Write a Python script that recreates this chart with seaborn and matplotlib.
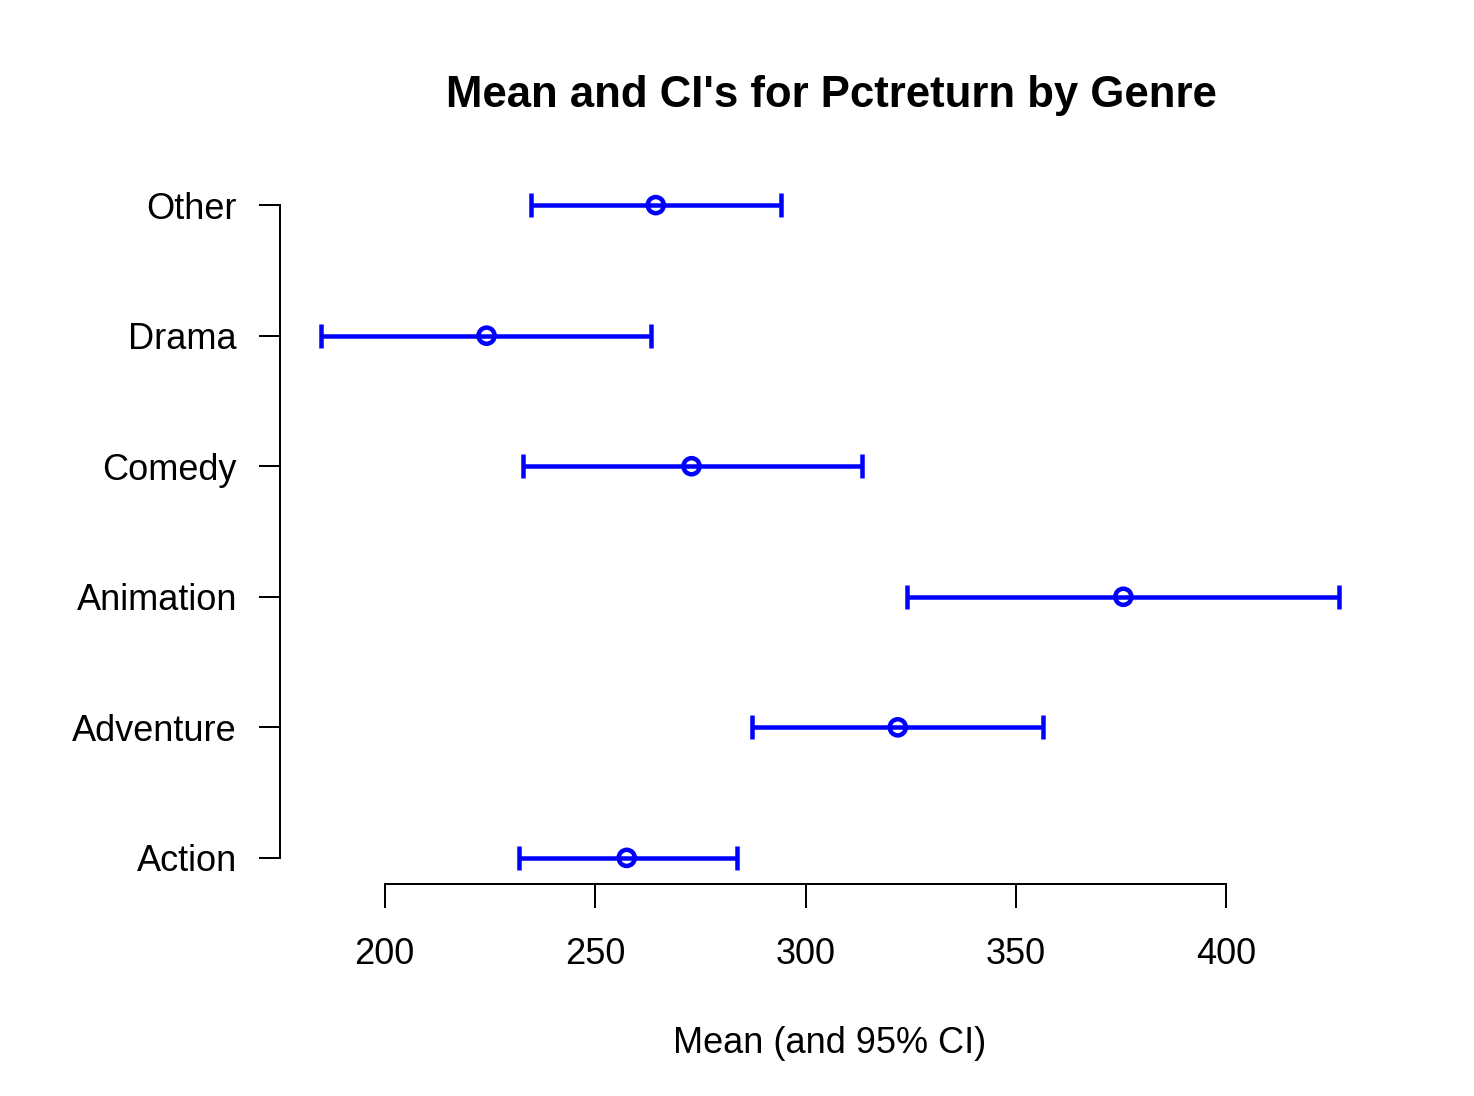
import pandas as pd
import matplotlib
matplotlib.use("Agg")
import matplotlib.pyplot as plt
import seaborn as sns

sns.set_theme(style="white")
plt.rcParams["font.family"] = ["Liberation Sans", "DejaVu Sans"]
plt.rcParams["text.color"] = "black"

genres = ["Action", "Adventure", "Animation", "Comedy", "Drama", "Other"]
means  = [257.5, 321.9, 375.5, 272.9, 224.2, 264.4]
lower  = [231.8, 287.2, 324.0, 232.8, 184.8, 234.7]
upper  = [283.6, 356.5, 426.8, 313.3, 263.2, 294.1]
x_ticks = [200, 250, 300, 350, 400]

df = pd.DataFrame({"Genre": genres, "Mean": means, "Lower": lower, "Upper": upper})
df["pos"] = range(1, len(df) + 1)

DPI = 100
px = 72 / DPI  # points per pixel

fig = plt.figure(figsize=(14.74, 10.96), dpi=DPI)
ax = fig.add_axes([280 / 1474, 212 / 1096, 1100 / 1474, 705 / 1096])

ax.errorbar(df["Mean"], df["pos"],
            xerr=[df["Mean"] - df["Lower"], df["Upper"] - df["Mean"]],
            fmt="none", ecolor="#0000FF", elinewidth=4.5 * px,
            capsize=12 * px, capthick=4.5 * px, zorder=2)
sns.scatterplot(data=df, x="Mean", y="pos", ax=ax, s=135,
                facecolor="none", edgecolor="#0000FF", linewidth=4.5 * px,
                zorder=3, legend=False)

lo = min(lower); hi = max(upper)
pad = (hi - lo) * 0.04
ax.set_xlim(lo - pad, hi + pad)
ax.set_ylim(1 - 5 * 0.04, 6 + 5 * 0.04)

ax.set_xticks(x_ticks)
ax.set_xticklabels([str(t) for t in x_ticks])
ax.set_yticks(df["pos"])
ax.set_yticklabels(df["Genre"])

for s in ["top", "right"]:
    ax.spines[s].set_visible(False)
for s in ["left", "bottom"]:
    ax.spines[s].set_color("black")
    ax.spines[s].set_linewidth(2 * px)
ax.spines["bottom"].set_bounds(x_ticks[0], x_ticks[-1])
ax.spines["left"].set_bounds(1, 6)

ax.tick_params(axis="x", direction="out", length=24 * px, width=2 * px,
               color="black", labelsize=26, pad=29 * px, labelcolor="black")
ax.tick_params(axis="y", direction="out", length=21 * px, width=2 * px,
               color="black", labelsize=26, pad=22 * px, labelcolor="black")
ax.tick_params(bottom=True, left=True)

ax.set_xlabel("Mean (and 95% CI)", fontsize=26, labelpad=54 * px, color="black")
ax.set_ylabel("")
fig.text(831 / 1474, 1 - 96 / 1096, "Mean and CI's for Pctreturn by Genre",
         ha="center", va="center", fontsize=31.5, fontweight="bold", color="black")

plt.savefig("out.png", dpi=DPI)
plt.close()
